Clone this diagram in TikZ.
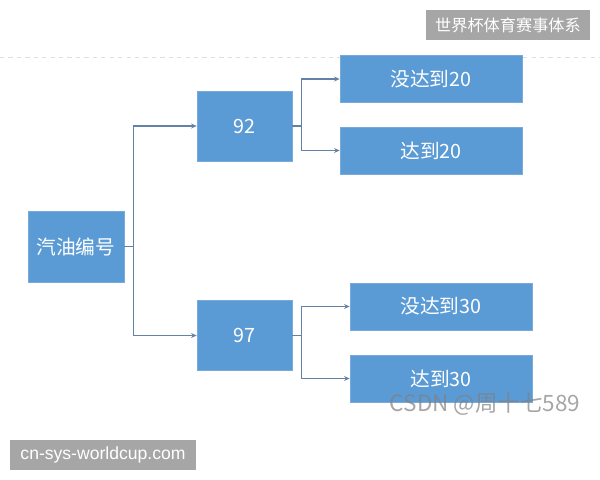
\documentclass[tikz,border=0pt]{standalone}
\usepackage{fontspec}
\setmainfont{Noto Sans CJK SC}
\newfontfamily\urlfont{Liberation Sans}
\usetikzlibrary{arrows,positioning}
\usepgflibrary{arrows.meta}
\definecolor{boxblue}{RGB}{91,155,213}
\definecolor{boxline}{RGB}{120,170,220}
\definecolor{linkgray}{RGB}{100,130,165}
\definecolor{taggray}{RGB}{166,166,166}

\begin{document}
\begin{tikzpicture}
    [x=0.025cm, y=-0.025cm,
    box/.style={draw=boxline, fill=boxblue, text=white, inner sep=0pt, font=\fontsize{14}{16}\selectfont},
    midbox/.style={box, minimum width=2.375cm, minimum height=1.75cm},
    leafbox/.style={box, minimum width=4.55cm, minimum height=1.175cm},
    link/.style={draw=linkgray, thick, -{Stealth[length=4pt, width=3.5pt]}},
    tag/.style={fill=taggray, text=white, inner sep=0pt}]
        \useasboundingbox (0,0) rectangle (600,480);
        %% faint rule under the title
        \draw[gray!25, dashed] (0,57) -- (600,57);
        %% Tree
        \node[box, minimum width=2.4cm, minimum height=1.775cm] (fuel) at (76,246.5) {汽油编号};
        \node[midbox] (n92) at (244.5,126) {92};
        \node[midbox] (n97) at (244.5,335.5) {97};
        \node[leafbox] (n92a) at (431,79) {没达到20};
        \node[leafbox] (n92b) at (431,150.5) {达到20};
        \node[leafbox] (n97a) at (441,306.5) {没达到30};
        \node[leafbox] (n97b) at (441,378.5) {达到30};

        \draw[link] (fuel.east) -- ++(9,0) |- (n92.west);
        \draw[link] (fuel.east) -- ++(9,0) |- (n97.west);
        \draw[link] (n92.east) -- ++(9,0) |- (n92a.west);
        \draw[link] (n92.east) -- ++(9,0) |- (n92b.west);
        \draw[link] (n97.east) -- ++(9,0) |- (n97a.west);
        \draw[link] (n97.east) -- ++(9,0) |- (n97b.west);

        %% Labels
        \node[tag, minimum width=4.1cm, minimum height=0.75cm, font=\fontsize{11.5}{13}\selectfont] (title) at (508,25) {世界杯体育赛事体系};
        \node[tag, minimum width=4.65cm, minimum height=0.75cm, font=\urlfont\fontsize{12.5}{14}\selectfont] (site) at (103,455) {cn-sys-worldcup.com};
        \node[text=gray, opacity=0.7, inner sep=0pt, font=\fontsize{16}{18}\selectfont] (mark) at (485,404) {CSDN @周十七589};
    \end{tikzpicture}
\end{document}
